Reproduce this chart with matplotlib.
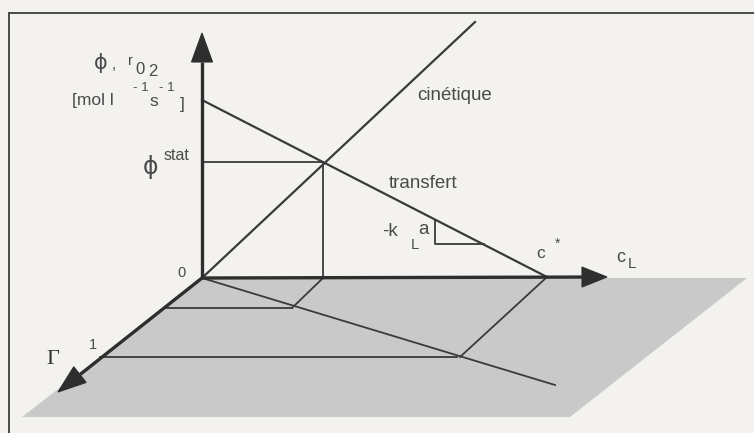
import numpy as np
import matplotlib.pyplot as plt
from matplotlib.patches import Polygon

plt.rcParams['font.family'] = ['Liberation Sans', 'DejaVu Sans']

# ----------------------------
# Diagram geometry (page coordinates, y downwards)
# ----------------------------
origin = (202, 278)
phi_tip = (202, 33)          # phi / r_O2 axis
cl_tip = (607, 277)          # c_L axis
gamma_tip = (58, 392)        # Gamma axis

transfer_start = (202, 100)  # transfer line at c_L = 0
c_star = (547, 277)
kinetic_end = (475, 22)
stat_point = (323, 162)

# slope triangle under the transfer line
tri_x = [435, 435, 484]
tri_y = [219.5, 244, 244]

# shaded (c_L, Gamma) plane
plane_x = [202, 747, 570, 22]
plane_y = [278, 278, 417, 417]

gamma_one = (100, 357)
gamma_small = (167, 308)
plane_lines = [
    [(gamma_one[0], 457), (gamma_one[1], 357)],        # Gamma = 1
    [(gamma_small[0], 292), (gamma_small[1], 308)],    # intermediate Gamma
    [(323, 292), (278, 308)],                          # from stationary point
    [(547, 460), (277, 357)],                          # from c*
    [(202, 555), (278, 385)],                          # locus in the plane
]

line_col = '#3a3a3a'
axis_col = '#2e2e2e'
bg_col = '#f3f2ef'
plane_col = '#c9c9c9'

fig = plt.figure(figsize=(7.54, 4.33), dpi=100)
fig.patch.set_facecolor(bg_col)
ax = fig.add_axes([0, 0, 1, 1])
ax.set_xlim(0, 754)
ax.set_ylim(433, 0)
ax.axis('off')

# frame
ax.plot([9, 754], [13, 13], color='#4a4a4a', lw=1.4)
ax.plot([9, 9], [13, 433], color='#4a4a4a', lw=1.4)

# plane
ax.add_patch(Polygon(np.column_stack([plane_x, plane_y]), closed=True,
                     facecolor=plane_col, edgecolor='none', zorder=1))

for xs, ys in plane_lines:
    ax.plot(xs, ys, color=line_col, lw=1.3, zorder=3)


def arrow_axis(p0, tip, head_len, head_w, lw=2.4):
    p0 = np.array(p0, float)
    tip = np.array(tip, float)
    d = (tip - p0) / np.linalg.norm(tip - p0)
    n = np.array([-d[1], d[0]])
    base = tip - d * head_len
    ax.plot([p0[0], base[0]], [p0[1], base[1]], color=axis_col, lw=lw,
            solid_capstyle='butt', zorder=4)
    head = np.array([tip, base + n * head_w, base - n * head_w])
    ax.add_patch(Polygon(head, closed=True, facecolor=axis_col,
                         edgecolor=axis_col, lw=0.8, zorder=5))


arrow_axis(origin, phi_tip, 29, 10.5)
arrow_axis(origin, cl_tip, 25, 10)
arrow_axis(origin, gamma_tip, 28, 10)

# transfer and kinetic lines
ax.plot([transfer_start[0], c_star[0]], [transfer_start[1], c_star[1]],
        color=line_col, lw=1.6, zorder=3)
ax.plot([origin[0], kinetic_end[0]], [origin[1], kinetic_end[1]],
        color=line_col, lw=1.6, zorder=3)

# stationary point projections
ax.plot([origin[0], stat_point[0]], [stat_point[1], stat_point[1]],
        color=line_col, lw=1.3, zorder=3)
ax.plot([stat_point[0], stat_point[0]], [stat_point[1], origin[1]],
        color=line_col, lw=1.3, zorder=3)

# slope triangle
ax.plot(tri_x, tri_y, color=line_col, lw=1.3, zorder=3)

# labels
tc = '#4a4a4a'


def label(x, y, s, size, **kw):
    kw.setdefault('ha', 'left')
    ax.text(x, y, s, fontsize=size, color=tc, va='center', **kw)


# ordinate label: phi , r_O2 and its unit
label(101, 63, 'ϕ', 15, ha='center', family=['DejaVu Sans'])
label(112, 65, ',', 11)
label(128, 61, 'r', 10.5)
label(135, 70, '0', 12)
label(148, 71, '2', 12)
label(72, 101, '[mol l', 12.5)
label(133, 88, '- 1', 9.5)
label(149, 102, 's', 12.5)
label(159, 88, '- 1', 9.5)
label(180, 104, ']', 12.5)

label(150, 167, 'ϕ', 17, ha='center', family=['DejaVu Sans'])
label(164, 155, 'stat', 11.5)
label(182, 273, '0', 10.5, ha='center')

label(417, 96, 'cinétique', 13.5)
label(389, 184, 'transfert', 13.5)

label(382, 232, '-k', 13.5)
label(411, 245, 'L', 10.5)
label(418, 229, 'a', 13.5)

label(536, 253, 'c', 12.5)
label(555, 244, '*', 10)
label(616, 257, 'c', 13)
label(628, 264, 'L', 11)

label(93, 345, '1', 10.5, ha='center')
ax.text(53, 359, 'Γ', fontsize=16, color='#333333', va='center', ha='center',
        family='Liberation Serif')

fig.savefig('out.png', dpi=100, facecolor=bg_col)
